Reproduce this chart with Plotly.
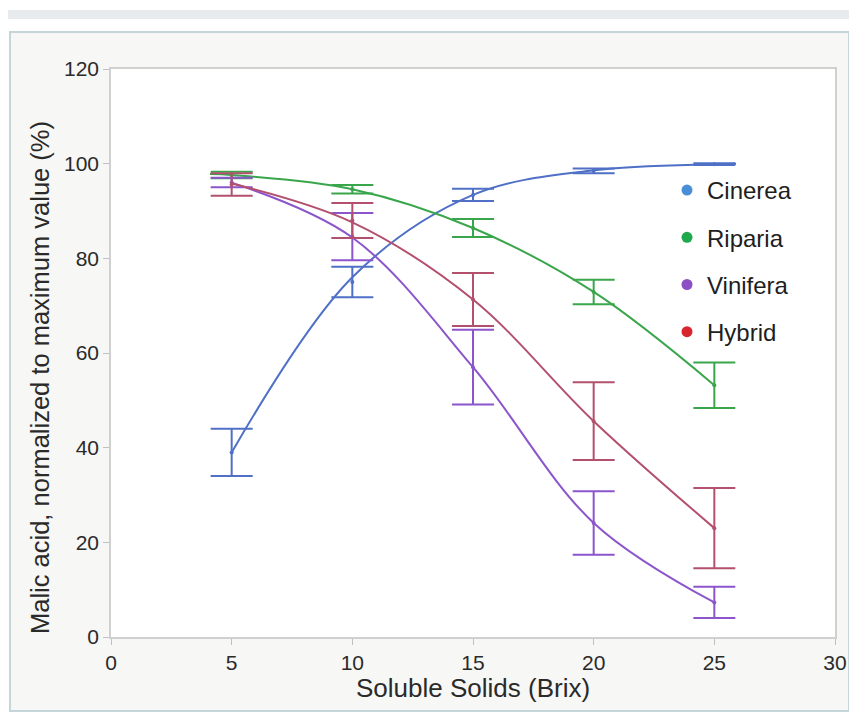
import plotly.graph_objects as go

# ---- data ----
brix = [5, 10, 15, 20, 25]

cinerea = [39.0, 75.0, 93.4, 98.5, 99.9]
cinerea_err = [5.0, 3.2, 1.3, 0.5, 0.2]

riparia = [97.6, 94.6, 86.4, 72.9, 53.2]
riparia_err = [0.7, 0.9, 1.9, 2.6, 4.8]

vinifera = [96.0, 84.6, 57.0, 24.1, 7.3]
vinifera_err = [1.0, 5.0, 7.9, 6.7, 3.3]

hybrid = [95.6, 88.0, 71.3, 45.6, 23.0]
hybrid_err = [2.4, 3.7, 5.6, 8.2, 8.5]

# fitted-curve extents (extra end points)
cinerea_curve_x = [5, 10, 15, 20, 25, 25.9]
cinerea_curve_y = [39.0, 76.0, 93.4, 98.6, 99.9, 100.0]
riparia_curve_x = [4.1, 5, 10, 15, 20, 25]
riparia_curve_y = [97.8, 97.6, 94.6, 86.4, 72.9, 53.2]
vinifera_curve_x = [5, 10, 15, 20, 25]
vinifera_curve_y = [96.0, 84.4, 57.0, 24.1, 7.3]
hybrid_curve_x = [5, 10, 15, 20, 25]
hybrid_curve_y = [95.8, 87.6, 71.3, 45.6, 23.0]

names = ["Cinerea", "Riparia", "Vinifera", "Hybrid"]
line_colors = ["#4f70c6", "#3aa64c", "#8c55cc", "#b3506e"]
dot_colors = ["#4a8fd6", "#1fa84c", "#8e4fc4", "#d8262f"]

series = [
    (cinerea, cinerea_err, cinerea_curve_x, cinerea_curve_y),
    (riparia, riparia_err, riparia_curve_x, riparia_curve_y),
    (vinifera, vinifera_err, vinifera_curve_x, vinifera_curve_y),
    (hybrid, hybrid_err, hybrid_curve_x, hybrid_curve_y),
]

FONT = "Liberation Sans, Arial, Helvetica, sans-serif"

fig = go.Figure()
for i, (vals, errs, cx, cy) in enumerate(series):
    fig.add_trace(go.Scatter(
        x=cx, y=cy, mode="lines", line=dict(color=line_colors[i], width=2, shape="spline"),
        showlegend=False, hoverinfo="skip"))
    fig.add_trace(go.Scatter(
        x=brix, y=vals, mode="markers",
        marker=dict(color=line_colors[i], size=4),
        error_y=dict(type="data", array=errs, visible=True, color=line_colors[i],
                     thickness=2, width=21),
        showlegend=False, name=names[i]))
for i, n in enumerate(names):
    fig.add_trace(go.Scatter(
        x=[None], y=[None], mode="markers", name=n,
        marker=dict(color=dot_colors[i], size=11),
        legendgroup=n))

W, H = 857, 714
OFF = 8  # page offset of the figure
L, R, T, B = 111 - OFF, 835 - OFF, 69 - OFF, 637 - OFF
pw, ph = R - L, B - T

def px(x):
    return (x - OFF - L) / pw

def py(y):
    return (B - (y - OFF)) / ph

shapes = [
    dict(type="rect", xref="paper", yref="paper", x0=px(0), x1=px(W + 10), y0=py(19), y1=py(10),
         fillcolor="#e8ebee", line=dict(width=0), layer="below"),
    dict(type="rect", xref="paper", yref="paper", x0=px(10), x1=px(849), y0=py(711), y1=py(32),
         fillcolor="#f7f7f5", line=dict(color="#c6d5da", width=2), layer="below"),
    dict(type="rect", xref="paper", yref="paper", x0=0, x1=1, y0=0, y1=1,
         fillcolor="#ffffff", line=dict(width=0), layer="below"),
]

axis_common = dict(
    showline=True, linecolor="#d0d0d0", linewidth=1.5, mirror=True,
    ticks="outside", ticklen=6, tickcolor="#c0c0c0", tickwidth=1,
    showgrid=False, zeroline=False,
    tickfont=dict(family=FONT, size=21, color="#2a2a2a"),
)

fig.update_layout(
    width=W, height=H,
    margin=dict(l=L, r=W - R, t=T, b=H - B, pad=0),
    paper_bgcolor="#ffffff", plot_bgcolor="rgba(0,0,0,0)",
    shapes=shapes,
    xaxis=dict(range=[0, 30], dtick=5, tick0=0, **axis_common),
    yaxis=dict(range=[0, 120], dtick=20, tick0=0, **axis_common),
    legend=dict(x=px(667), y=py(168), xanchor="left", yanchor="top",
                bgcolor="rgba(0,0,0,0)", font=dict(family=FONT, size=24, color="#1e1e1e"),
                tracegroupgap=13, traceorder="grouped"),
    annotations=[
        dict(text="Soluble Solids (Brix)", xref="paper", yref="paper", x=0.5, y=py(688),
             xanchor="center", yanchor="middle", showarrow=False,
             font=dict(family=FONT, size=26, color="#2a2a2a")),
        dict(text="Malic acid, normalized to maximum value (%)", xref="paper", yref="paper",
             x=px(40), y=py(378), xanchor="center", yanchor="middle", textangle=-90,
             showarrow=False, font=dict(family=FONT, size=25.5, color="#2a2a2a")),
    ],
)

fig.write_html("out.html")
